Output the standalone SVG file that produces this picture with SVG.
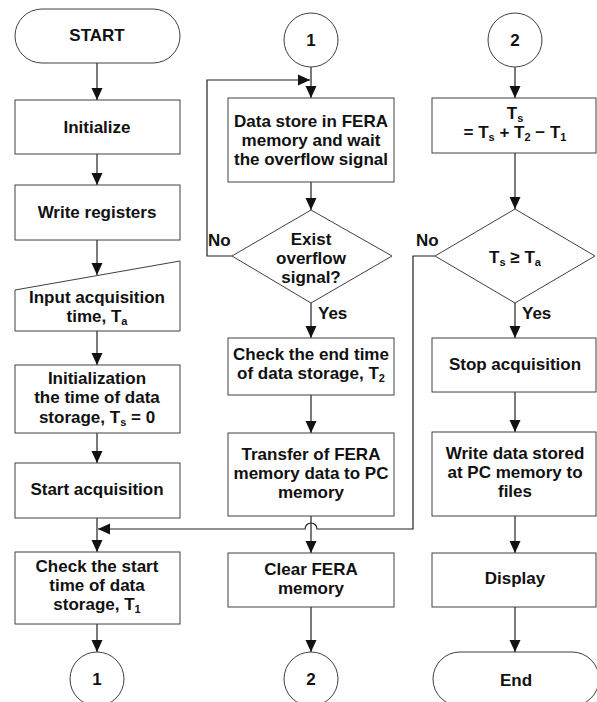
<svg xmlns="http://www.w3.org/2000/svg" width="597" height="702" viewBox="0 0 597 702">
  <style>
    .shape { fill: #ffffff; stroke: #404040; stroke-width: 1; }
    .wire { fill: none; stroke: #202020; stroke-width: 1.2; }
    text { font-family: "Liberation Sans", Arial, Helvetica, sans-serif; font-weight: bold; font-size: 17px; fill: #111111; text-anchor: middle; }
    .lbl { text-anchor: start; }
    .sub { font-size: 11px; }
  </style>
  <defs>
    <marker id="arrow" viewBox="0 0 12 12" refX="12" refY="6" markerWidth="12" markerHeight="12" markerUnits="userSpaceOnUse" orient="auto">
      <path d="M0,0.5 L12,6 L0,11.5 Z" fill="#111111"/>
    </marker>
  </defs>

  <rect width="597" height="702" fill="#ffffff"/>

  <!-- Connectors -->
  <g id="connectors" class="wire" marker-end="url(#arrow)">
    <!-- left column -->
    <path d="M97,63 V100"/>
    <path d="M97,154 V185"/>
    <path d="M97,240 V275"/>
    <path d="M97,331 V365"/>
    <path d="M97,433 V463"/>
    <path d="M97,518 V552"/>
    <path d="M97,624 V652"/>
    <!-- middle column -->
    <path d="M311,67 V98"/>
    <path d="M232,256 H207 V80 H310"/>
    <path d="M311,182 V210"/>
    <path d="M311,303 V338"/>
    <path d="M311,395 V433"/>
    <path d="M311,516 V553"/>
    <path d="M311,607 V652"/>
    <!-- right column -->
    <path d="M515,67 V98"/>
    <path d="M515,153 V209"/>
    <path d="M515,303 V338"/>
    <path d="M515,392 V432"/>
    <path d="M515,516 V553"/>
    <path d="M515,607 V652"/>
    <!-- "No" branch of the Ts test, hopping over the middle column -->
    <path d="M435,256 H413 V529 H317 A6,6 0 0 0 305,529 H98"/>
  </g>

  <!-- Left column -->
  <g id="start">
    <rect class="shape" x="15" y="9" width="165" height="54" rx="27" ry="27"/>
    <text x="97" y="41">START</text>
  </g>
  <g id="initialize">
    <rect class="shape" x="15" y="100" width="165" height="54"/>
    <text x="97" y="133">Initialize</text>
  </g>
  <g id="write-registers">
    <rect class="shape" x="15" y="185" width="165" height="55"/>
    <text x="97" y="218">Write registers</text>
  </g>
  <g id="input-time">
    <polygon class="shape" points="15,290 180,261 180,331 15,331"/>
    <text x="97" y="303">Input acquisition</text>
    <text x="97" y="322">time, T<tspan class="sub" dy="3">a</tspan></text>
  </g>
  <g id="init-storage">
    <rect class="shape" x="15" y="365" width="165" height="68"/>
    <text x="97" y="384">Initialization</text>
    <text x="97" y="403">the time of data</text>
    <text x="97" y="423">storage, T<tspan class="sub" dy="3">s</tspan><tspan dy="-3"> = 0</tspan></text>
  </g>
  <g id="start-acquisition">
    <rect class="shape" x="15" y="463" width="165" height="55"/>
    <text x="97" y="495">Start acquisition</text>
  </g>
  <g id="check-start">
    <rect class="shape" x="15" y="552" width="165" height="72"/>
    <text x="97" y="572">Check the start</text>
    <text x="97" y="591">time of data</text>
    <text x="97" y="610">storage, T<tspan class="sub" dy="3">1</tspan></text>
  </g>
  <g id="conn-1-out">
    <circle class="shape" cx="97" cy="679" r="27"/>
    <text x="97" y="685">1</text>
  </g>

  <!-- Middle column -->
  <g id="conn-1-in">
    <circle class="shape" cx="311" cy="40" r="27"/>
    <text x="311" y="46">1</text>
  </g>
  <g id="data-store">
    <rect class="shape" x="228" y="98" width="166" height="84"/>
    <text x="311" y="127">Data store in FERA</text>
    <text x="311" y="146">memory and wait</text>
    <text x="311" y="165">the overflow signal</text>
  </g>
  <g id="overflow-test">
    <polygon class="shape" points="311,210 392,256 311,303 232,256"/>
    <text x="311" y="245">Exist</text>
    <text x="311" y="264">overflow</text>
    <text x="311" y="283">signal?</text>
    <text class="lbl" x="208" y="246">No</text>
    <text class="lbl" x="318" y="319">Yes</text>
  </g>
  <g id="check-end">
    <rect class="shape" x="228" y="338" width="166" height="57"/>
    <text x="311" y="360">Check the end time</text>
    <text x="311" y="379">of data storage, T<tspan class="sub" dy="3">2</tspan></text>
  </g>
  <g id="transfer">
    <rect class="shape" x="228" y="433" width="166" height="83"/>
    <text x="311" y="460">Transfer of FERA</text>
    <text x="311" y="479">memory data to PC</text>
    <text x="311" y="498">memory</text>
  </g>
  <g id="clear-fera">
    <rect class="shape" x="228" y="553" width="166" height="54"/>
    <text x="311" y="575">Clear FERA</text>
    <text x="311" y="594">memory</text>
  </g>
  <g id="conn-2-out">
    <circle class="shape" cx="311" cy="679" r="27"/>
    <text x="311" y="685">2</text>
  </g>

  <!-- Right column -->
  <g id="conn-2-in">
    <circle class="shape" cx="515" cy="40" r="27"/>
    <text x="515" y="46">2</text>
  </g>
  <g id="update-ts">
    <rect class="shape" x="432" y="98" width="164" height="55"/>
    <text x="515" y="119">T<tspan class="sub" dy="3">s</tspan></text>
    <text x="515" y="138">= T<tspan class="sub" dy="3">s</tspan><tspan dy="-3"> + T</tspan><tspan class="sub" dy="3">2</tspan><tspan dy="-3"> − T</tspan><tspan class="sub" dy="3">1</tspan></text>
  </g>
  <g id="time-test">
    <polygon class="shape" points="515,209 595,256 515,303 435,256"/>
    <text x="515" y="263">T<tspan class="sub" dy="3">s</tspan><tspan dy="-3"> ≥ T</tspan><tspan class="sub" dy="3">a</tspan></text>
    <text class="lbl" x="416" y="246">No</text>
    <text class="lbl" x="522" y="319">Yes</text>
  </g>
  <g id="stop-acquisition">
    <rect class="shape" x="432" y="338" width="164" height="54"/>
    <text x="515" y="370">Stop acquisition</text>
  </g>
  <g id="write-files">
    <rect class="shape" x="432" y="432" width="164" height="84"/>
    <text x="515" y="459">Write data stored</text>
    <text x="515" y="478">at PC memory to</text>
    <text x="515" y="497">files</text>
  </g>
  <g id="display">
    <rect class="shape" x="432" y="553" width="164" height="54"/>
    <text x="515" y="584">Display</text>
  </g>
  <g id="end">
    <rect class="shape" x="433" y="652" width="166" height="54" rx="27" ry="27"/>
    <text x="516" y="686">End</text>
  </g>
</svg>
